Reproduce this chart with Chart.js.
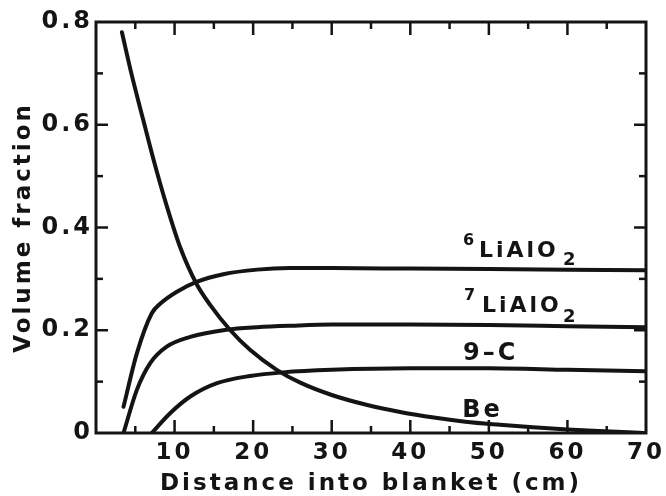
<!DOCTYPE html>
<html><head><meta charset="utf-8">
<script src="https://cdn.jsdelivr.net/npm/chart.js@4/dist/chart.umd.min.js"></script>
<style>html,body{margin:0;padding:0;background:#fff;}#wrap{width:666px;height:496px;}</style>
</head><body><div id="wrap"><canvas id="c" width="666" height="496"></canvas></div>
<script>
// ---- data ----
const xTickLabels = ['10', '20', '30', '40', '50', '60', '70'];
const yTickLabels = ['0', '0.2', '0.4', '0.6', '0.8'];
const seriesNames = ['Be', '6LiAlO2', '7LiAlO2', '9-C'];

const beDist = [3.3, 4.5, 6.0, 7.5, 9.0, 10.7, 12.8, 14.5, 17.1, 19.6, 23.0, 26.0, 30.0, 34.4, 38.7, 43.0, 47.0, 51.4, 55.6, 60.0, 64.0, 69.7];
const beFrac = [0.780, 0.700, 0.610, 0.522, 0.442, 0.362, 0.290, 0.250, 0.200, 0.162, 0.123, 0.098, 0.074, 0.055, 0.041, 0.030, 0.022, 0.016, 0.011, 0.007, 0.004, 0.000];

const li6Dist = [3.5, 5.2, 7.1, 8.2, 10.3, 12.8, 16.2, 20.5, 24.7, 30, 40, 50, 60, 70];
const li6Frac = [0.051, 0.155, 0.233, 0.252, 0.275, 0.294, 0.309, 0.318, 0.321, 0.321, 0.320, 0.319, 0.318, 0.317];

const li7Dist = [3.5, 5.2, 6.9, 9.0, 12.0, 16.6, 20.5, 25.0, 30, 40, 50, 60, 70];
const li7Frac = [0.000, 0.084, 0.136, 0.168, 0.187, 0.201, 0.206, 0.209, 0.211, 0.211, 0.210, 0.208, 0.206];

const c9Dist = [7.1, 9.4, 12.0, 15.4, 19.6, 23.8, 30, 40, 50, 60, 70];
const c9Frac = [0.000, 0.038, 0.071, 0.097, 0.111, 0.118, 0.123, 0.126, 0.126, 0.123, 0.120];

// ---- build ----
const INK = '#141414';
const FONT = '"DejaVu Sans", "Liberation Sans", Arial, sans-serif';
const pts = (xs, ys) => xs.map((x, i) => ({x, y: ys[i]}));
const mk = (label, xs, ys) => ({
  label, data: pts(xs, ys), showLine: true, borderColor: INK, borderWidth: 4,
  pointRadius: 0, fill: false, cubicInterpolationMode: 'monotone', borderCapStyle: 'round'
});

const framePlugin = {
  id: 'frame',
  beforeDraw(chart) {
    const ctx = chart.ctx;
    ctx.fillStyle = '#fff';
    ctx.fillRect(0, 0, chart.width, chart.height);
    ctx.letterSpacing = '3px';
  },
  afterDraw(chart) {
    const {ctx, chartArea: {left, right, top, bottom}, scales: {x, y}} = chart;
    ctx.save();
    ctx.strokeStyle = INK;
    ctx.lineCap = 'butt';
    ctx.lineWidth = 3;
    ctx.strokeRect(left, top, right - left, bottom - top);
    ctx.lineWidth = 2.5;
    const seg = (a, b, c, d) => { ctx.beginPath(); ctx.moveTo(a, b); ctx.lineTo(c, d); ctx.stroke(); };
    for (let v = 5; v < 70; v += 5) {
      const px = x.getPixelForValue(v);
      const len = v % 10 === 0 ? 13 : 7;
      seg(px, bottom, px, bottom - len);
      seg(px, top, px, top + len);
    }
    for (let k = 1; k < 8; k++) {
      const py = y.getPixelForValue(k / 10);
      const len = k % 2 === 0 ? 12 : 7;
      seg(left, py, left + len, py);
      seg(right, py, right - len, py);
    }
    // curve labels
    ctx.fillStyle = INK;
    ctx.textAlign = 'left';
    ctx.textBaseline = 'alphabetic';
    ctx.letterSpacing = '3px';
    const put = (xv, yv, parts) => {
      const bx = x.getPixelForValue(xv), by = y.getPixelForValue(yv);
      parts.forEach(p => {
        ctx.font = 'bold ' + p.s + 'px ' + FONT;
        ctx.fillText(p.t, bx + p.dx, by + p.dy);
      });
    };
    put(46.7, 0.3426, [{t: '6', s: 16, dx: 0, dy: -12}, {t: 'LiAlO', s: 22, dx: 16, dy: 0}, {t: '2', s: 18, dx: 100, dy: 8}]);
    put(46.7, 0.2355, [{t: '7', s: 16, dx: 1, dy: -12}, {t: 'LiAlO', s: 22, dx: 19, dy: 0}, {t: '2', s: 18, dx: 100, dy: 10}]);
    put(46.7, 0.142, [{t: '9\u2013C', s: 24, dx: 0, dy: 0}]);
    put(46.6, 0.031, [{t: 'Be', s: 24, dx: 0, dy: 0}]);
    ctx.restore();
  }
};

new Chart(document.getElementById('c'), {
  type: 'scatter',
  data: {datasets: [
    mk(seriesNames[0], beDist, beFrac),
    mk(seriesNames[1], li6Dist, li6Frac),
    mk(seriesNames[2], li7Dist, li7Frac),
    mk(seriesNames[3], c9Dist, c9Frac)
  ]},
  options: {
    responsive: false, animation: false, devicePixelRatio: 1,
    layout: {padding: {left: 0, right: 20, top: 22, bottom: 0}},
    plugins: {legend: {display: false}, tooltip: {enabled: false}},
    scales: {
      x: {
        type: 'linear', min: 0, max: 70,
        grid: {display: false, drawTicks: false}, border: {display: false},
        ticks: {stepSize: 10, padding: 6, color: INK, maxRotation: 0,
          font: {family: FONT, weight: 'bold', size: 23},
          callback: (v, i) => i === 0 ? '' : xTickLabels[i - 1]},
        title: {display: true, text: 'Distance into blanket (cm)', color: INK,
          font: {family: FONT, weight: 'bold', size: 23}, padding: {top: 0, bottom: -2}},
        afterFit(s) { s.height = 63; s.paddingLeft = 0; s.paddingRight = 0; }
      },
      y: {
        type: 'linear', min: 0, max: 0.8,
        grid: {display: false, drawTicks: false}, border: {display: false},
        ticks: {stepSize: 0.2, padding: 3, color: INK,
          font: {family: FONT, weight: 'bold', size: 24},
          callback: (v, i) => yTickLabels[i]},
        title: {display: true, text: 'Volume fraction', color: INK,
          font: {family: FONT, weight: 'bold', size: 23}, padding: {top: 10, bottom: 0}},
        afterFit(s) { s.width = 96; s.paddingTop = 0; s.paddingBottom = 0; }
      }
    }
  },
  plugins: [framePlugin]
});
</script></body></html>
